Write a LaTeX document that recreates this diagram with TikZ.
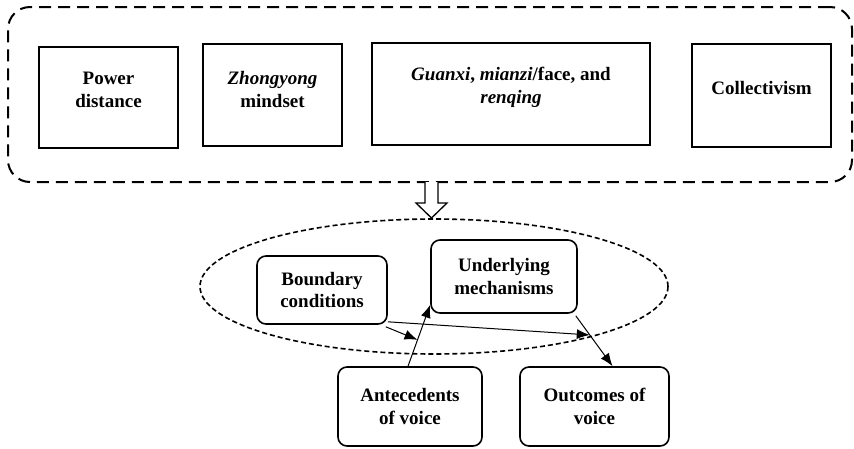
\documentclass[tikz,border=0pt]{standalone}
\usepackage{fontspec}
\setmainfont{Liberation Serif}
\usetikzlibrary{arrows.meta,shapes.geometric,calc}
\begin{document}
\begin{tikzpicture}[x=1pt,y=-1pt,
  every node/.style={font=\fontsize{19}{22.5}\selectfont\bfseries, align=center},
  sqbox/.style={draw, line width=1.5pt, inner sep=0pt},
  rbox/.style={draw, line width=1.6pt, rounded corners=9pt, inner sep=0pt},
  lbl/.style={inner sep=0pt},
  conn/.style={line width=1pt, -{Latex[length=13pt,width=10pt]}}
]
\useasboundingbox (0,0) rectangle (854,448);
% outer dashed frame
\node[draw, line width=2pt, dash pattern=on 12pt off 7pt, rounded corners=22pt,
      minimum width=844pt, minimum height=175pt, inner sep=0pt] (frame) at (430,94.5) {};
% top boxes
\node[sqbox, minimum width=139pt, minimum height=101pt] (pd) at (108.5,97.5) {};
\node[lbl] (pdt) at ([yshift=7.5pt]pd.center) {Power\\distance};
\node[sqbox, minimum width=139pt, minimum height=102pt] (zy) at (272.5,95) {};
\node[lbl] (zyt) at ([yshift=5.5pt]zy.center) {\itshape Zhongyong\\mindset};
\node[sqbox, minimum width=278pt, minimum height=102pt] (gx) at (511,94) {};
\node[lbl] (gxt) at ([yshift=6.5pt]gx.center) {\textit{Guanxi}, \textit{mianzi}/face, and\\\textit{renqing}};
\node[sqbox, minimum width=139pt, minimum height=103pt] (co) at (761.5,95.5) {};
\node[lbl] (cot) at ([yshift=7.5pt]co.center) {Collectivism};
% block arrow
\coordinate (ba) at (431.5,218);
\draw[line width=1.3pt, fill=white]
  (425,182) -- (425,203) -- (416,203) -- (ba) -- (447,203) -- (438,203) -- (438,182);
% ellipse
\node[ellipse, draw, line width=1.6pt, dash pattern=on 5pt off 3pt,
      minimum width=468pt, minimum height=135pt, inner sep=0pt] (ell) at (434,286.5) {};
% lower boxes
\node[rbox, minimum width=130pt, minimum height=68pt] (bnd) at (322,290) {Boundary\\conditions};
\node[rbox, minimum width=146pt, minimum height=73pt] (und) at (504,276.5) {Underlying\\mechanisms};
\node[rbox, minimum width=144pt, minimum height=79pt] (ant) at (410,406.5) {Antecedents\\of voice};
\node[rbox, minimum width=149pt, minimum height=79pt] (out) at (594.5,406.5) {Outcomes of\\voice};
% connectors
\draw[conn] ([xshift=-2pt]ant.north) -- coordinate[pos=0.43] (m1) ([yshift=9pt]und.south west);
\draw[conn] ([shift={(-2pt,-2pt)}]und.south east) -- coordinate[pos=0.38] (m2)
  ($(out.north west)!0.62!(out.north east)$);
\draw[conn] ([shift={(-2pt,-2pt)}]bnd.south east) -- (m1);
\draw[conn] ([yshift=3pt]bnd.south east) -- (m2);
\end{tikzpicture}
\end{document}
